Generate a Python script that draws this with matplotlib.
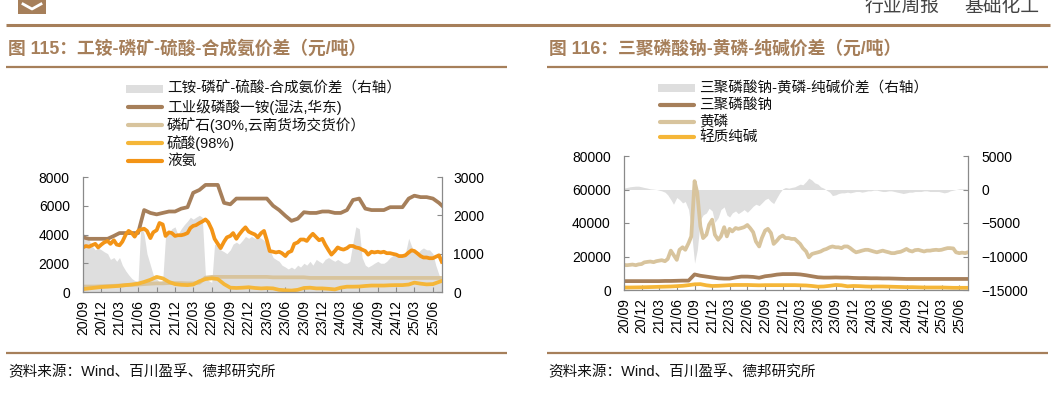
import matplotlib
matplotlib.use('Agg')
import matplotlib.pyplot as plt
from matplotlib.lines import Line2D
from matplotlib.patches import Rectangle
import pandas as pd

plt.rcParams['font.family'] = ['Liberation Sans', 'Noto Sans CJK SC']

# ---------------- data ----------------
xlabels = ['20/09', '20/12', '21/03', '21/06', '21/09', '21/12', '22/03', '22/06',
           '22/09', '22/12', '23/03', '23/06', '23/09', '23/12', '24/03', '24/06',
           '24/09', '24/12', '25/03', '25/06']

# left chart (monthly series)
ammonium = [3800, 3700, 3700, 3700, 3700, 3900, 4100, 4100, 4100, 4100,
            5700, 5500, 5400, 5500, 5600, 5600, 5800, 5900, 6900, 7100,
            7450, 7450, 7450, 6200, 6100, 6500, 6500, 6500, 6500, 6500,
            6500, 6000, 5700, 5300, 4950, 5100, 5550, 5500, 5500, 5600,
            5600, 5500, 5500, 5700, 6400, 6500, 5800, 5700, 5700, 5700,
            5900, 5900, 5900, 6500, 6700, 6600, 6600, 6500, 6200, 5800]
rock = [380, 380, 380, 400, 420, 430, 450, 480, 500, 520,
        550, 580, 600, 600, 620, 620, 620, 600, 600, 650,
        1000, 1050, 1050, 1050, 1050, 1050, 1050, 1050, 1050, 1050,
        1050, 1020, 1020, 1020, 1020, 1020, 1020, 980, 980, 980,
        980, 980, 980, 980, 980, 980, 980, 980, 980, 980,
        980, 980, 980, 980, 980, 980, 980, 980, 980, 980]
sulfuric = [200, 250, 300, 350, 370, 400, 430, 480, 520, 580,
            700, 850, 1050, 950, 700, 550, 500, 480, 520, 750,
            900, 950, 900, 550, 300, 280, 300, 330, 280, 250,
            270, 250, 150, 120, 100, 150, 280, 300, 250, 250,
            220, 180, 300, 370, 370, 380, 420, 450, 450, 450,
            470, 480, 480, 520, 650, 580, 530, 550, 700, 850]
# left chart (half-monthly series)
ammonia = [3100, 3200, 3150, 3250, 3350, 3100, 3300, 3450, 3550, 3350,
           3600, 3300, 3250, 3500, 4000, 4250, 4100, 3850, 4250, 4350,
           4400, 4250, 3750, 4150, 4300, 4800, 4700, 3900, 4150, 4100,
           3900, 3950, 3950, 4000, 4100, 4450, 4600, 4650, 4800, 4900,
           5050, 4850, 4350, 3700, 3350, 3050, 3500, 3800, 3900, 4100,
           3700, 4000, 4300, 4500, 4200, 4100, 4000, 3800, 4100, 4250,
           3600, 2850, 2800, 2750, 2800, 2700, 2500, 2750, 2850, 3350,
           3450, 3650, 3650, 3550, 3850, 4050, 3800, 3600, 3700, 3300,
           2900, 2600, 2850, 3100, 3000, 2950, 3050, 3200, 3200, 3100,
           3050, 2950, 2850, 2600, 2800, 2750, 2800, 2750, 2800, 2700,
           2700, 2650, 2600, 2500, 2500, 2550, 2750, 2900, 2850, 2700,
           2500, 2400, 2400, 2350, 2350, 2450, 2550, 2100]
spread_l = [1550, 1450, 1350, 1200, 1100, 1150, 1100, 1050, 1000, 850,
            900, 800, 900, 700, 550, 450, 350, 300, 280, 1800,
            1500, 1000, 700, 450, 350, 250, 300, 1450, 1550, 1650,
            1700, 1500, 1650, 1750, 1850, 1950, 1900, 1950, 2000, 1950,
            400, 300, 250, 1250, 1200, 1100, 1050, 1000, 1100, 1250,
            1300, 1250, 1350, 1450, 1400, 1450, 1400, 1450, 1400, 1350,
            1250, 1100, 900, 850, 800, 700, 650, 600, 650, 600,
            700, 650, 750, 700, 800, 700, 850, 800, 750, 850,
            900, 850, 800, 850, 800, 750, 750, 800, 1300, 1700,
            1650, 900, 700, 650, 700, 750, 800, 750, 750, 800,
            900, 950, 1000, 950, 900, 1000, 1400, 1200, 1050, 1000,
            1100, 1150, 1100, 1100, 1000, 700, 450, 300]

# right chart (monthly series)
stpp = [5300, 5300, 5300, 5300, 5300, 5300, 5300, 5400, 5400, 5500,
        5600, 5600, 9300, 8500, 8000, 7500, 7000, 6800, 6800, 7500,
        8000, 8000, 7800, 7300, 8200, 8600, 9200, 9500, 9500, 9500,
        9300, 8800, 8200, 7600, 7400, 7400, 7500, 7400, 7400, 7200,
        7100, 7100, 7000, 7000, 6900, 6900, 6800, 6700, 6600, 6600,
        6600, 6600, 6600, 6600, 6600, 6600, 6600, 6600, 6600, 6600]
soda = [1500, 1500, 1550, 1600, 1700, 1800, 1900, 2000, 2100, 2300,
        2500, 2900, 3400, 3500, 2800, 2400, 2500, 2700, 2900, 3000,
        3000, 3000, 2900, 2800, 2900, 2900, 2900, 2900, 2900, 2900,
        2800, 2700, 2400, 2000, 2100, 2500, 3000, 2800, 2200, 2400,
        2300, 2100, 2000, 2100, 2100, 2000, 1900, 1800, 1700, 1700,
        1600, 1500, 1500, 1500, 1500, 1400, 1300, 1300, 1300, 1300]
# right chart (half-monthly series)
yp = [15000, 14800, 15000, 15200, 14800, 15300, 15500, 16500, 16800, 17000,
      16600, 17200, 17500, 17800, 17200, 18500, 23500, 21000, 18000, 24000,
      25500, 24000, 28000, 32000, 65000, 58000, 38000, 31000, 33000, 39000,
      42000, 33000, 30000, 32000, 37500, 32000, 36500, 35000, 37000, 36500,
      37000, 37500, 38800, 37000, 34500, 29000, 26000, 31000, 35500, 36500,
      34000, 27500, 29500, 31500, 32500, 31000, 31000, 30500, 30500, 29000,
      27500, 25000, 23000, 19500, 21500, 22000, 22500, 23000, 24000, 24500,
      25500, 26000, 25500, 25500, 25000, 26000, 26000, 25000, 23500, 22500,
      23000, 23500, 24000, 24000, 23500, 23000, 22500, 23000, 23500, 23000,
      22500, 22000, 22000, 22500, 22800, 23500, 24500, 23500, 23000, 23800,
      24000, 23500, 23000, 23500, 23500, 23800, 24000, 23800, 24000, 24500,
      25000, 25000, 24800, 22500, 22000, 22300, 22000, 22500]
spread_r = [200, 300, 400, 450, 500, 500, 400, 300, 200, 100,
            50, 0, -100, -200, -400, -800, -1500, -2200, -1200, -1500,
            -2000, -1800, -3000, -6000, -11000, -9000, -4500, -3800, -3500, -2800,
            -3200, -4900, -4200, -3000, -2600, -3800, -4100, -3500, -3200, -3600,
            -3300, -3000, -3400, -3000, -2500, -2200, -2400, -2000, -1500, -1300,
            -1800, -2100, -1200, -500, 100, 300, 200, 300, 400, 600,
            800, 700, 1200, 1700, 1400, 1000, 800, 400, 200, -100,
            -400, -900, -800, -600, -500, -500, -400, -500, -400, -300,
            -300, -400, -300, -200, -200, -100, -100, -200, -300, -300,
            -200, -200, -300, -400, -500, -600, -500, -400, -400, -300,
            -300, -300, -200, -200, -300, -300, -300, -300, -400, -500,
            -400, -200, -100, 0, 100, 100, 100, 0]

legend_l = ['工铵-磷矿-硫酸-合成氨价差（右轴）', '工业级磷酸一铵(湿法,华东)',
            '磷矿石(30%,云南货场交货价）', '硫酸(98%)', '液氨']
legend_r = ['三聚磷酸钠-黄磷-纯碱价差（右轴）', '三聚磷酸钠', '黄磷', '轻质纯碱']
title_l = '图 115：工铵-磷矿-硫酸-合成氨价差（元/吨）'
title_r = '图 116：三聚磷酸钠-黄磷-纯碱价差（元/吨）'
source = '资料来源：Wind、百川盈孚、德邦研究所'
header_a = '行业周报'
header_b = '基础化工'

# ---------------- styling ----------------
W, H = 1064, 394
fig = plt.figure(figsize=(W / 100, H / 100), dpi=100)


def fx(x):
    return x / W


def fy(y):
    return 1 - y / H


BROWN = '#A67F5A'
TAN = '#D8C49D'
YELLOW = '#F5B638'
ORANGE = '#F39416'
GRAY = '#DEDEDE'
AXC = '#8A8A8A'
LW = 2.7

months = pd.date_range('2020-09-01', periods=len(ammonium), freq='MS')
halfm = pd.date_range('2020-09-01', periods=len(ammonia), freq='SMS')
tick_dates = pd.date_range('2020-09-01', periods=len(xlabels), freq='3MS')
xlim = (pd.Timestamp('2020-09-01'), pd.Timestamp('2025-07-16'))


def make_axes(l, r, t, b):
    ax = fig.add_axes([fx(l), fy(b), fx(r) - fx(l), fy(t) - fy(b)])
    ax2 = ax.twinx()
    ax.set_zorder(ax2.get_zorder() + 1)
    ax.patch.set_visible(False)
    return ax, ax2


def style(ax, ax2, ylim, yticks, y2lim, y2ticks, lpad, rpad):
    ax.set_xlim(*xlim)
    ax.set_ylim(*ylim)
    ax.set_yticks(yticks)
    ax2.set_ylim(*y2lim)
    ax2.set_yticks(y2ticks)
    ax.set_xticks(tick_dates)
    ax.set_xticklabels(xlabels, rotation=90)
    for s in ['top', 'right']:
        ax.spines[s].set_visible(False)
    for s in ['top', 'left', 'bottom']:
        ax2.spines[s].set_visible(False)
    for a in (ax, ax2):
        for s in a.spines.values():
            s.set_color(AXC)
            s.set_linewidth(0.9)
    ax.tick_params(axis='y', direction='in', length=3.5, color=AXC, labelsize=10, pad=lpad)
    ax.tick_params(axis='x', direction='in', length=3.5, color=AXC, labelsize=10, pad=6)
    ax2.tick_params(axis='y', direction='in', length=3.5, color=AXC, labelsize=10, pad=rpad)


# ---- left chart ----
axL, axL2 = make_axes(83, 442, 177, 292)
axL2.fill_between(halfm, 0, spread_l, color=GRAY, lw=0)
axL.plot(months, rock, color=TAN, lw=LW)
axL.plot(months, ammonium, color=BROWN, lw=LW)
axL.plot(months, sulfuric, color=YELLOW, lw=LW)
axL.plot(halfm, ammonia, color=ORANGE, lw=LW)
style(axL, axL2, (0, 8000), range(0, 8001, 2000), (0, 3000), range(0, 3001, 1000), 9.5, 8)

# ---- right chart ----
axR, axR2 = make_axes(624, 968, 156, 290)
axR2.fill_between(halfm, 0, spread_r, color=GRAY, lw=0)
axR.plot(halfm, yp, color=TAN, lw=LW)
axR.plot(months, stpp, color=BROWN, lw=LW)
axR.plot(months, soda, color=YELLOW, lw=LW)
style(axR, axR2, (0, 80000), range(0, 80001, 20000), (-15000, 5000), range(-15000, 5001, 5000), 9.5, 9.5)


# ---- legends ----
def legend(labels, colors, ys, x0=126, x1=163, xt=167):
    for i, (lab, col, y) in enumerate(zip(labels, colors, ys)):
        if i == 0:
            fig.add_artist(Rectangle((fx(x0), fy(y + 4)), fx(x1) - fx(x0), 8 / H,
                                     transform=fig.transFigure, facecolor=col, edgecolor='none'))
        else:
            fig.add_artist(Line2D([fx(x0 + 1.5), fx(x1 - 1.5)], [fy(y), fy(y)],
                                  transform=fig.transFigure, color=col, lw=3,
                                  solid_capstyle='round'))
        fig.text(fx(xt), fy(y), lab, ha='left', va='center', fontsize=10.5, color='#111111')


legend(legend_l, [GRAY, BROWN, TAN, YELLOW, ORANGE], [88.5, 107, 125, 143, 161])
legend(legend_r, [GRAY, BROWN, TAN, YELLOW], [88, 105, 121.5, 137],
       x0=658, x1=695, xt=699)


# ---- frame decorations ----
def hline(x0, x1, y, lw):
    fig.add_artist(Line2D([fx(x0), fx(x1)], [fy(y), fy(y)], transform=fig.transFigure,
                          color=BROWN, lw=lw, solid_capstyle='butt'))


hline(6, 1050, 24.5, 2.2)
hline(6, 507, 67, 1.6)
hline(547, 1048, 67, 1.6)
hline(6, 507, 353, 1.6)
hline(547, 1048, 353, 1.6)

fig.text(fx(8), fy(49), title_l, ha='left', va='center', fontsize=12.8,
         fontweight='bold', color=BROWN)
fig.text(fx(549), fy(49), title_r, ha='left', va='center', fontsize=12.8,
         fontweight='bold', color=BROWN)
fig.text(fx(8), fy(372), source, ha='left', va='center', fontsize=10.5, color='#111111')
fig.text(fx(548), fy(372), source, ha='left', va='center', fontsize=10.5, color='#111111')
fig.text(fx(865), fy(12), header_a, ha='left', va='baseline', fontsize=13.5, color='#444444')
fig.text(fx(964), fy(12), header_b, ha='left', va='baseline', fontsize=13.5, color='#444444')

# logo fragment
fig.add_artist(Rectangle((fx(18), fy(14)), fx(46) - fx(18), 14 / H,
                         transform=fig.transFigure, facecolor=BROWN, edgecolor='none'))
fig.add_artist(Line2D([fx(23), fx(32), fx(41)], [fy(4), fy(9), fy(4)],
                      transform=fig.transFigure, color='white', lw=2))

fig.savefig('out.png', dpi=100)
